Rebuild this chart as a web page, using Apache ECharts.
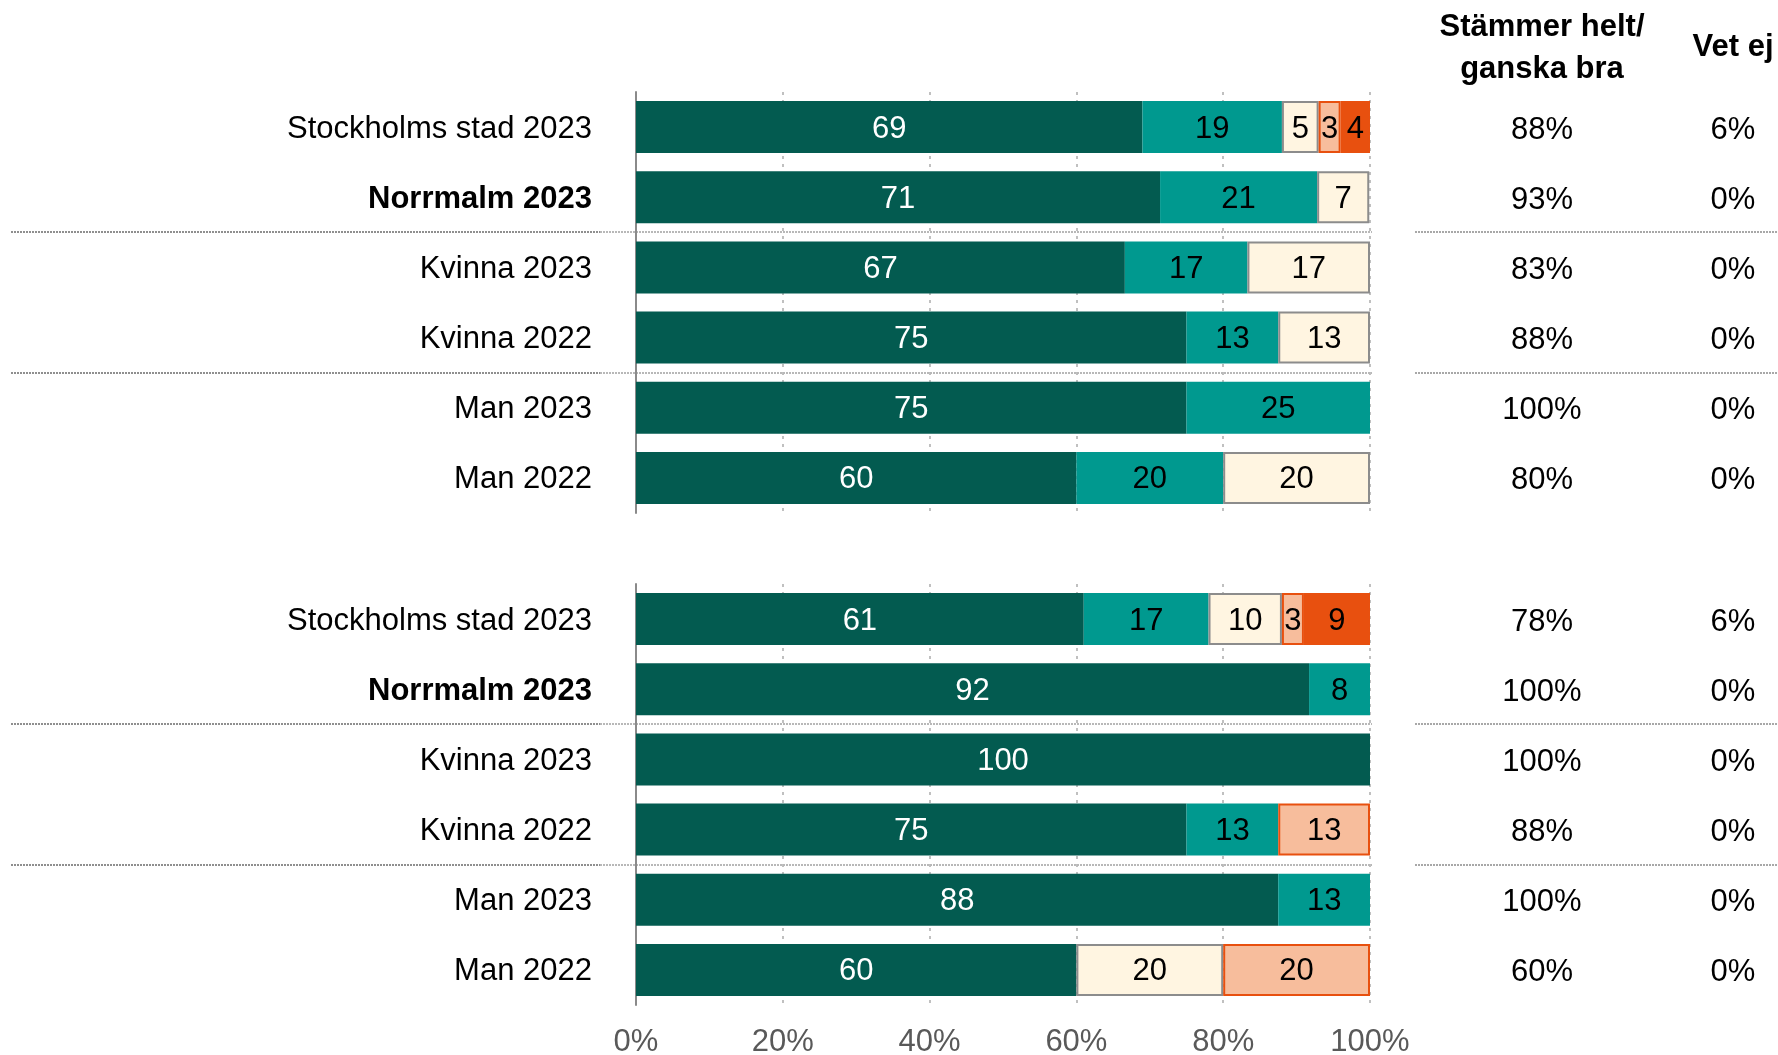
<!DOCTYPE html>
<html>
<head>
<meta charset="utf-8">
<script src="https://cdn.jsdelivr.net/npm/echarts@6/dist/echarts.min.js"></script>
<style>
  html, body { margin: 0; padding: 0; background: #fff; }
  #chart { width: 1778px; height: 1055px; }
</style>
</head>
<body>
<div id="chart"></div>
<script>
// rader (samma i båda grupperna)
const rowLabels = ['Stockholms stad 2023', 'Norrmalm 2023', 'Kvinna 2023', 'Kvinna 2022', 'Man 2023', 'Man 2022'];
const boldRows = ['Norrmalm 2023'];

// övre gruppen
const topHelt = [69, 71.4, 66.6, 75, 75, 60];
const topGanska = [19, 21.4, 16.7, 12.5, 25, 20];
const topGanskaDaligt = [5, 7.1, 16.7, 12.5, 0, 20];
const topMycketDaligt = [3, 0, 0, 0, 0, 0];
const topInte = [4, 0, 0, 0, 0, 0];
const topAgree = ['88%', '93%', '83%', '88%', '100%', '80%'];
const topVetEj = ['6%', '0%', '0%', '0%', '0%', '0%'];

// nedre gruppen
const botHelt = [61, 91.7, 100, 75, 87.5, 60];
const botGanska = [17, 8.3, 0, 12.5, 12.5, 0];
const botGanskaDaligt = [10, 0, 0, 0, 0, 20];
const botMycketDaligt = [3, 0, 0, 12.5, 0, 20];
const botInte = [9, 0, 0, 0, 0, 0];
const botAgree = ['78%', '100%', '100%', '88%', '100%', '60%'];
const botVetEj = ['6%', '0%', '0%', '0%', '0%', '0%'];

const xTicks = [0, 20, 40, 60, 80, 100];
const headerAgree = ['Stämmer helt/', 'ganska bra'];
const headerVetEj = 'Vet ej';

const FONT = '"Liberation Sans", Arial, sans-serif';
const FS = 31;

// färger per serie
const styles = [
  { color: '#035b50', border: null, text: '#fff' },
  { color: '#00998f', border: null, text: '#000' },
  { color: '#fff5e1', border: '#8c8c8c', text: '#000' },
  { color: '#f7bd9c', border: '#e8500f', text: '#000' },
  { color: '#e8500f', border: null, text: '#000' }
];

const groups = [
  [topHelt, topGanska, topGanskaDaligt, topMycketDaligt, topInte],
  [botHelt, botGanska, botGanskaDaligt, botMycketDaligt, botInte]
];

const gridTops = [92, 584];
const gridHeight = 421;

const chart = echarts.init(document.getElementById('chart'));

const series = [];
groups.forEach((grp, g) => {
  grp.forEach((vals, i) => {
    const st = styles[i];
    series.push({
      type: 'bar',
      stack: 'g' + g,
      xAxisIndex: g,
      yAxisIndex: g,
      barCategoryGap: '26%',
      data: vals.map(v => (v ? v : null)),
      itemStyle: {
        color: st.color,
        borderColor: st.border || st.color,
        borderWidth: st.border ? 2 : 0
      },
      label: {
        show: true,
        position: 'inside',
        offset: [0, 2],
        color: st.text,
        fontFamily: FONT,
        fontSize: FS,
        formatter: p => (p.value ? Math.round(p.value) : '')
      },
      emphasis: { disabled: true },
      animation: false
    });
  });
});

const option = {
  animation: false,
  grid: gridTops.map(t => ({
    left: 636, right: 408, top: t, height: gridHeight,
    containLabel: false, outerBoundsMode: 'none'
  })),
  xAxis: [0, 1].map(g => ({
    type: 'value',
    gridIndex: g,
    min: 0,
    max: 100,
    interval: 20,
    axisLine: { show: false },
    axisTick: { show: false },
    axisLabel: {
      show: g === 1,
      margin: 22,
      color: '#595959',
      fontFamily: FONT,
      fontSize: FS,
      formatter: v => (xTicks.includes(v) ? v + '%' : '')
    },
    splitLine: {
      show: true,
      lineStyle: { color: '#c0c0c0', width: 2, type: [3, 5] }
    }
  })),
  yAxis: [0, 1].map(g => ({
    type: 'category',
    gridIndex: g,
    inverse: true,
    data: rowLabels,
    axisLine: { show: true, lineStyle: { color: '#8a8a8a', width: 2 } },
    axisTick: { show: false },
    axisLabel: {
      margin: 44,
      padding: [4, 0, 0, 0],
      color: '#000',
      fontFamily: FONT,
      fontSize: FS,
      formatter: v => (boldRows.includes(v) ? '{b|' + v + '}' : v),
      rich: { b: { fontWeight: 'bold', fontFamily: FONT, fontSize: FS, color: '#000' } }
    }
  })),
  series: series
};
chart.setOption(option);

// höger kolumner, rubriker och avdelare
const colAgreeX = 1542;
const colVetEjX = 1733;
const graphic = [];
const txt = (x, y, s, bold) => ({
  type: 'text',
  x: x, y: y,
  silent: true,
  style: {
    text: s,
    fill: '#000',
    font: (bold ? 'bold ' : '') + FS + 'px ' + FONT,
    textAlign: 'center',
    textVerticalAlign: 'middle'
  }
});
const divider = (x1, x2, y, color) => ({
  type: 'line',
  silent: true,
  shape: { x1: x1, y1: y, x2: x2, y2: y },
  style: { stroke: color, lineWidth: 2, lineDash: [2, 1] }
});

graphic.push(txt(colAgreeX, 27, headerAgree[0], true));
graphic.push(txt(colAgreeX, 69, headerAgree[1], true));
graphic.push(txt(colVetEjX, 47, headerVetEj, true));

const rightCols = [[topAgree, topVetEj], [botAgree, botVetEj]];
[0, 1].forEach(g => {
  const ys = rowLabels.map(r => chart.convertToPixel({ yAxisIndex: g }, r));
  ys.forEach((y, i) => {
    graphic.push(txt(colAgreeX, y + 3, rightCols[g][0][i], false));
    graphic.push(txt(colVetEjX, y + 3, rightCols[g][1][i], false));
  });
  [1, 3].forEach(i => {
    const y = Math.round((ys[i] + ys[i + 1]) / 2);
    graphic.push(divider(11, 600, y, '#8f8f8f'));
    graphic.push(divider(600, 1372, y, '#b8b8b8'));
    graphic.push(divider(1415, 1778, y, '#a8a8a8'));
  });
});
chart.setOption({ graphic: graphic });
</script>
</body>
</html>
